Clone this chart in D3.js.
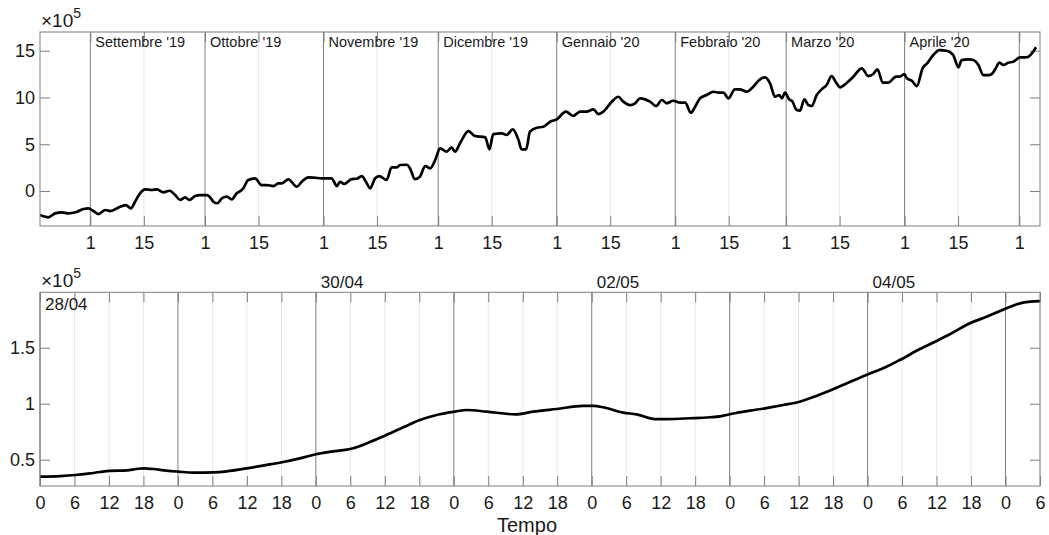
<!DOCTYPE html>
<html>
<head>
<meta charset="utf-8">
<script src="https://cdn.jsdelivr.net/npm/d3@7"></script>
<style>
    body { margin: 0; background: #fff; }
    svg { display: block; font-family: "Liberation Sans", Arial, Helvetica, sans-serif; }
</style>
</head>
<body>
<div id="grafico"></div>
<script>

// serie lunga: giorni dal 1 settembre 2019, valori in unita' di 1e5
const topGiorni = [
    -13.2, -11.0, -9.2, -7.5, -5.8, -3.6, -1.8, -0.5, 0.8, 2.1, 3.9, 5.2, 7.8, 9.3, 10.6, 11.7,
    13.0, 14.3, 16.1, 17.4, 19.1, 20.7, 22.2, 23.5, 24.8, 25.9, 27.4, 28.7, 30.5, 31.3, 32.2, 33.2,
    34.4, 35.7, 37.0, 38.3, 39.6, 40.0, 41.3, 43.1, 44.8, 46.1, 47.9, 49.2, 50.1, 51.8, 54.0, 55.3,
    57.0, 58.8, 60.5, 61.8, 63.1, 64.5, 65.3, 66.4, 68.4, 69.7, 71.0, 72.1, 73.2, 74.5, 75.6, 77.5,
    78.8, 80.2, 81.0, 82.8, 83.6, 84.9, 86.2, 87.6, 88.9, 90.2, 91.5, 93.2, 94.5, 95.4, 96.7, 98.9,
    100.6, 103.3, 104.4, 105.4, 107.6, 108.9, 110.5, 112.0, 112.8, 114.0, 115.0, 116.8, 118.5, 120.3, 122.0, 124.4,
    126.3, 128.1, 129.8, 131.6, 132.9, 134.2, 136.4, 138.1, 139.4, 141.2, 142.5, 143.8, 145.1, 146.4, 148.0, 149.5,
    150.8, 152.5, 154.3, 155.6, 157.1, 158.2, 159.5, 161.2, 163.0, 164.7, 165.6, 166.9, 168.6, 169.9, 171.7, 173.4,
    175.2, 176.5, 177.8, 179.1, 180.2, 180.9, 181.7, 182.8, 183.7, 184.6, 185.6, 186.8, 187.8, 188.7, 190.0, 191.3,
    192.6, 193.9, 195.2, 196.1, 197.9, 199.6, 201.8, 203.5, 204.8, 205.9, 207.3, 208.7, 210.8, 211.8, 212.9, 213.6,
    214.9, 216.2, 217.7, 218.9, 220.5, 222.1, 224.0, 225.7, 227.1, 227.9, 229.7, 231.0, 232.3, 233.6, 235.2, 235.8,
    236.7, 237.8, 238.8, 240.1, 241.4, 243.2, 244.5, 245.4, 246.3, 247.4
];
const topValori = [
    -2.57, -2.81, -2.39, -2.28, -2.39, -2.24, -1.92, -1.85, -2.14, -2.46, -2.03, -2.14, -1.68, -1.50, -1.85, -1.14,
    -0.25, 0.18, 0.11, 0.18, -0.14, 0.03, -0.43, -0.96, -0.67, -0.96, -0.53, -0.43, -0.43, -0.67, -1.14, -1.31,
    -0.78, -0.61, -0.89, -0.25, 0.11, 0.29, 1.18, 1.36, 0.64, 0.64, 0.53, 0.82, 0.82, 1.25, 0.46, 0.99,
    1.46, 1.42, 1.36, 1.36, 1.36, 0.53, 0.99, 0.75, 1.28, 1.31, 1.60, 0.99, 0.29, 1.36, 1.60, 1.18,
    2.53, 2.53, 2.78, 2.81, 2.43, 1.28, 1.53, 2.67, 2.43, 3.31, 4.56, 4.20, 4.67, 4.20, 5.10, 6.41,
    5.88, 5.74, 4.46, 6.09, 6.17, 5.99, 6.60, 5.45, 4.46, 4.46, 6.34, 6.77, 6.87, 7.41, 7.66, 8.48,
    8.02, 8.48, 8.48, 8.73, 8.23, 8.48, 9.55, 10.08, 9.55, 9.19, 9.38, 9.91, 9.80, 9.55, 9.09, 9.73,
    9.38, 9.65, 9.44, 9.44, 8.37, 9.01, 9.91, 10.26, 10.61, 10.51, 10.51, 9.91, 10.87, 10.87, 10.61, 11.15,
    11.94, 12.15, 11.51, 10.08, 10.26, 9.91, 10.51, 9.80, 9.55, 8.73, 8.58, 9.80, 9.19, 9.09, 10.26, 10.87,
    11.33, 12.29, 11.51, 11.09, 11.58, 12.22, 13.12, 12.29, 12.51, 13.01, 11.58, 11.58, 12.22, 12.22, 12.51, 12.05,
    11.79, 11.22, 13.12, 13.65, 14.54, 15.07, 15.00, 14.54, 13.22, 14.00, 14.08, 14.00, 13.47, 12.40, 12.40, 12.51,
    13.01, 13.72, 13.47, 13.72, 13.82, 14.29, 14.29, 14.36, 14.72, 15.36
];

// serie breve: ore dalle 00:00 del 28/04, valori in unita' di 1e5
const bottomOre = [
    0, 3.5, 6.1, 8.7, 10.4, 12.2, 15.1, 16.8, 18.1, 19.7, 22.0, 24.1, 26.7, 30.2, 32.5, 36.0,
    39.5, 42.1, 45.2, 48.2, 51.0, 52.8, 54.5, 56.9, 60.0, 63.2, 66.1, 69.0, 72.2, 74.3, 77.7, 82.7,
    85.8, 89.9, 94.5, 96.3, 98.0, 101.5, 103.8, 107.0, 109.1, 113.1, 116.6, 118.3, 120.2, 123.5, 126.2, 129.3,
    132.2, 135.2, 138.0, 140.4, 144.2, 146.7, 149.6, 153.1, 156.1, 158.3, 161.8, 164.7, 168.2, 170.5, 172.3, 174.0
];
const bottomValori = [
    0.348, 0.354, 0.363, 0.378, 0.390, 0.400, 0.405, 0.417, 0.423, 0.417, 0.402, 0.393, 0.384, 0.387, 0.396, 0.423,
    0.453, 0.477, 0.512, 0.551, 0.575, 0.585, 0.602, 0.646, 0.714, 0.789, 0.854, 0.899, 0.929, 0.944, 0.929, 0.905,
    0.929, 0.953, 0.980, 0.980, 0.968, 0.920, 0.905, 0.863, 0.863, 0.870, 0.879, 0.887, 0.908, 0.938, 0.959, 0.988,
    1.018, 1.071, 1.129, 1.182, 1.265, 1.316, 1.390, 1.488, 1.563, 1.620, 1.718, 1.777, 1.852, 1.896, 1.911, 1.917
];

const nomiMesi = ["Settembre '19", "Ottobre '19", "Novembre '19", "Dicembre '19",
    "Gennaio '20", "Febbraio '20", "Marzo '20", "Aprile '20"];
const yTickTop = [0, 5, 10, 15];
const yTickBottom = [0.5, 1, 1.5];
const etichetteGiorni = ["28/04", "30/04", "02/05", "04/05"];

const width = 1049, height = 535;
const left = 40, right = 1040;
const axisColor = "#7f7f7f", gridColor = "#e8e8e8", textColor = "#1a1a1a";

const ora = 36e5, giorno = 864e5;
const inizioSet = Date.UTC(2019, 8, 1);
const inizio28 = Date.UTC(2020, 3, 28);

let svg = d3.select("#grafico").append("svg")
    .attr("width", width)
    .attr("height", height);

svg.append("rect").attr("width", width).attr("height", height).attr("fill", "#fff");

function drawPanel(p) {
    let g = svg.append("g");
    let top = p.y.range()[1], bottom = p.y.range()[0];

    g.append("clipPath").attr("id", p.id)
        .append("rect")
        .attr("x", left).attr("y", top)
        .attr("width", right - left).attr("height", bottom - top);

    // griglia chiara e linee principali
    g.selectAll(".minor").data(p.minors).enter().append("line")
        .attr("x1", d => p.x(d)).attr("x2", d => p.x(d))
        .attr("y1", top).attr("y2", bottom)
        .attr("stroke", gridColor);
    g.selectAll(".major").data(p.majors).enter().append("line")
        .attr("x1", d => p.x(d)).attr("x2", d => p.x(d))
        .attr("y1", top).attr("y2", bottom)
        .attr("stroke", axisColor);

    let axB = g.append("g").attr("transform", "translate(0," + bottom + ")")
        .call(d3.axisBottom(p.x).tickValues(p.xTicks).tickFormat(p.xFormat)
            .tickSizeInner(-10).tickSizeOuter(0).tickPadding(10));
    let axT = g.append("g").attr("transform", "translate(0," + top + ")")
        .call(d3.axisTop(p.x).tickValues(p.xTicks).tickFormat("")
            .tickSizeInner(-10).tickSizeOuter(0));
    let axL = g.append("g").attr("transform", "translate(" + left + ",0)")
        .call(d3.axisLeft(p.y).tickValues(p.yTicks).tickFormat(p.yFormat)
            .tickSizeInner(-10).tickSizeOuter(0).tickPadding(5));
    let axR = g.append("g").attr("transform", "translate(" + right + ",0)")
        .call(d3.axisRight(p.y).tickValues(p.yTicks).tickFormat("")
            .tickSizeInner(-10).tickSizeOuter(0));

    [axB, axT, axL, axR].forEach(a => {
        a.select(".domain").remove();
        a.selectAll(".tick line").attr("stroke", axisColor);
        a.selectAll("text")
            .attr("fill", textColor)
            .style("font-size", "18px");
    });

    g.append("path")
        .datum(p.data)
        .attr("clip-path", "url(#" + p.id + ")")
        .attr("fill", "none")
        .attr("stroke", "#000")
        .attr("stroke-width", 2.7)
        .attr("stroke-linejoin", "round")
        .attr("d", d3.line()
            .x(d => p.x(d[0]))
            .y(d => p.y(d[1]))
            .curve(d3.curveMonotoneX));

    g.append("rect")
        .attr("x", left).attr("y", top)
        .attr("width", right - left).attr("height", bottom - top)
        .attr("fill", "none")
        .attr("stroke", axisColor);

    // moltiplicatore
    let m = g.append("text")
        .attr("x", left + 1)
        .attr("y", top - 5.5)
        .attr("fill", textColor)
        .style("font-size", "19px");
    m.append("tspan").text("\u00d710");
    m.append("tspan").attr("dy", -9).style("font-size", "14px").text("5");

    return g;
}

// pannello superiore
let xTop = d3.scaleUtc()
    .domain([new Date(Date.UTC(2019, 7, 18, 20)), new Date(Date.UTC(2020, 4, 6, 10))])
    .range([left, right]);
let yTop = d3.scaleLinear().domain([-3.74, 17]).range([226, 32]);

let inizioMesi = d3.utcMonths(new Date(inizioSet), new Date(Date.UTC(2020, 4, 2)));
let metaMesi = inizioMesi.slice(0, 8).map(d => new Date(Date.UTC(d.getUTCFullYear(), d.getUTCMonth(), 15)));

let gTop = drawPanel({
    id: "clipTop",
    x: xTop,
    y: yTop,
    majors: inizioMesi,
    minors: metaMesi,
    xTicks: inizioMesi.concat(metaMesi).sort((a, b) => a - b),
    xFormat: d => d.getUTCDate(),
    yTicks: yTickTop,
    yFormat: d3.format("d"),
    data: topGiorni.map((d, i) => [new Date(inizioSet + d * giorno), topValori[i]])
});

gTop.selectAll(".mese").data(nomiMesi).enter().append("text")
    .attr("x", (d, i) => xTop(inizioMesi[i]) + 5)
    .attr("y", 46.5)
    .attr("fill", textColor)
    .style("font-size", "14.5px")
    .text(d => d);

// pannello inferiore
let xBottom = d3.scaleUtc()
    .domain([new Date(inizio28), new Date(inizio28 + 174 * ora)])
    .range([left, right]);
let yBottom = d3.scaleLinear().domain([0.265, 1.995]).range([486, 292.3]);

let mezzanotti = d3.utcDays(new Date(inizio28), new Date(inizio28 + 174 * ora));
let oreTutte = d3.utcHour.every(6).range(new Date(inizio28), new Date(inizio28 + 175 * ora));

let gBottom = drawPanel({
    id: "clipBottom",
    x: xBottom,
    y: yBottom,
    majors: mezzanotti,
    minors: oreTutte.filter(d => d.getUTCHours() !== 0),
    xTicks: oreTutte,
    xFormat: d => d.getUTCHours(),
    yTicks: yTickBottom,
    yFormat: d3.format("~g"),
    data: bottomOre.map((d, i) => [new Date(inizio28 + d * ora), bottomValori[i]])
});

gBottom.selectAll(".giorno").data(etichetteGiorni).enter().append("text")
    .attr("x", (d, i) => xBottom(mezzanotti[i * 2]) + 5)
    .attr("y", (d, i) => i === 0 ? 310 : 288)
    .attr("fill", textColor)
    .style("font-size", "17px")
    .text(d => d);

svg.append("text")
    .attr("x", 527)
    .attr("y", 532)
    .attr("text-anchor", "middle")
    .attr("fill", textColor)
    .style("font-size", "20px")
    .text("Tempo");

</script>
</body>
</html>
